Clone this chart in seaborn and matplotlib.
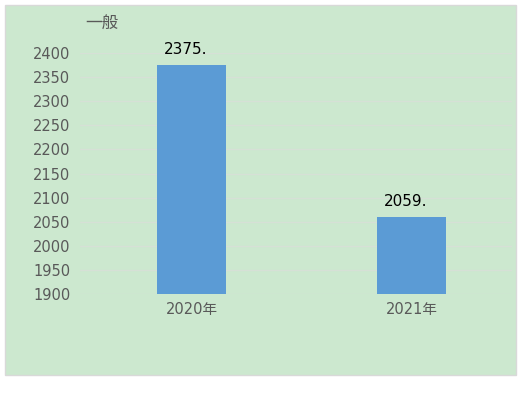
import matplotlib
matplotlib.use("Agg")
import matplotlib.pyplot as plt
import seaborn as sns
import pandas as pd
from matplotlib.patches import Rectangle

# data
years = ["2020年", "2021年"]
values = [2375, 2059]
bar_labels = ["2375.", "2059."]
y_ticks = [1900, 1950, 2000, 2050, 2100, 2150, 2200, 2250, 2300, 2350, 2400]

sns.set_style("white")
plt.rcParams['font.family'] = ['DejaVu Sans', 'Noto Sans CJK SC']

green = "#CCE8CF"
grey_txt = "#595959"

fig = plt.figure(figsize=(5.31, 3.93), dpi=100)
fig.patch.set_facecolor("white")

# green chart panel, drawn behind the axes
panel = Rectangle((5 / 531, 18 / 393), 511 / 531, 370 / 393, transform=fig.transFigure,
                  facecolor=green, edgecolor="#D9D9D9", linewidth=1, zorder=-5)
fig.patches.append(panel)

ax = fig.add_axes([80 / 531, 99 / 393, 432 / 531, 241 / 393])
ax.patch.set_alpha(0)

df = pd.DataFrame({"year": years, "value": values})
sns.barplot(data=df, x="year", y="value", color="#5B9BD5", saturation=1,
            width=0.314, linewidth=0, ax=ax, zorder=3)

ax.set_ylim(1900, 2400)
ax.set_xlim(-0.507, 1.457)
ax.set_yticks(y_ticks)
ax.yaxis.grid(True, color="#D6E0D6", linewidth=1, zorder=0)
ax.set_axisbelow(True)
for s in ax.spines.values():
    s.set_visible(False)
ax.tick_params(axis="both", length=0, labelsize=10.5, labelcolor=grey_txt)
ax.tick_params(axis="y", pad=7)
ax.tick_params(axis="x", pad=6)
ax.set_xlabel("")
ax.set_ylabel("")

for i, (v, lab) in enumerate(zip(values, bar_labels)):
    ax.annotate(lab, (i, v), xytext=(-4, 6), textcoords="offset points",
                ha="center", va="bottom", fontsize=11, color="black",
                annotation_clip=False)

fig.text(85 / 531, 1 - 23 / 393, "一般", fontsize=12, color=grey_txt,
         family=['Noto Sans CJK SC'], ha="left", va="center")

fig.savefig("out.png", dpi=100)
